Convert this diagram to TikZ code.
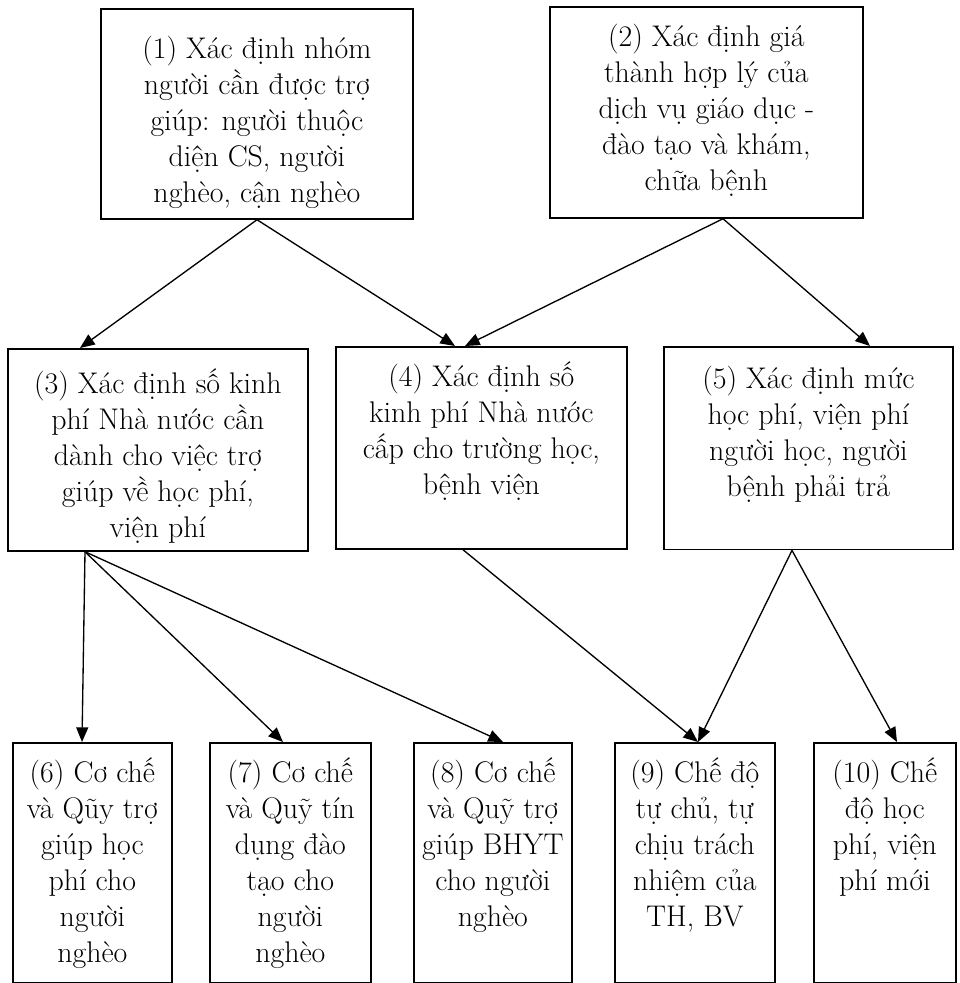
\documentclass[tikz,border=0pt]{standalone}
\usepackage{fontspec}
\usetikzlibrary{arrows.meta,calc}

\newcommand{\noidung}[4][10.5pt]{\parbox[c][#3][t]{#2}{\centering\vspace*{#1}\strut #4}}

\tikzset{every picture/.style={line width=0.9pt}}
\tikzset{
  hop/.style={draw, line width=1.3pt, inner sep=0pt, anchor=north west,
    font=\fontsize{22.4}{27}\selectfont},
  mui/.style={-{Triangle[length=11pt,width=9pt]}, line width=1pt}
}

\begin{document}
\begin{tikzpicture}[x=0.75pt,y=0.75pt,yscale=-1,xscale=1]
	\useasboundingbox (0,0) rectangle (960,983);
	
	%Shape: Rectangle [id:b1]
	\node [hop] (b1) at (100,8) {\noidung[18.5pt]{234pt}{157.5pt}{(1) Xác định nhóm\\ người cần được trợ\\ giúp: người thuộc\\ diện CS, người\\ nghèo, cận nghèo}};
	%Shape: Rectangle [id:b2]
	\node [hop] (b2) at (549,6) {\noidung{234.75pt}{158.25pt}{(2) Xác định giá\\ thành hợp lý của\\ dịch vụ giáo dục -\\ đào tạo và khám,\\ chữa bệnh}};
	
	%Shape: Rectangle [id:b3]
	\node [hop] (b3) at (7,348) {\noidung[14.5pt]{225pt}{151.5pt}{(3) Xác định số kinh\\ phí Nhà nước cần\\ dành cho việc trợ\\ giúp về học phí,\\ viện phí}};
	%Shape: Rectangle [id:b4]
	\node [hop] (b4) at (335,346) {\noidung{218.25pt}{151.5pt}{(4) Xác định số\\ kinh phí Nhà nước\\ cấp cho trường học,\\ bệnh viện}};
	%Shape: Rectangle [id:b5]
	\node [hop] (b5) at (663,346) {\noidung[12pt]{216.75pt}{152pt}{(5) Xác định mức\\ học phí, viện phí\\ người học, người\\ bệnh phải trả}};
	
	%Shape: Rectangle [id:b6]
	\node [hop] (b6) at (12,742) {\noidung{119.25pt}{180pt}{(6) Cơ chế\\ và Qũy trợ\\ giúp học\\ phí cho\\ người\\ nghèo}};
	%Shape: Rectangle [id:b7]
	\node [hop] (b7) at (209,742) {\noidung{120.75pt}{180pt}{(7) Cơ chế\\ và Quỹ tín\\ dụng đào\\ tạo cho\\ người\\ nghèo}};
	%Shape: Rectangle [id:b8]
	\node [hop] (b8) at (413,742) {\noidung{118.5pt}{180pt}{(8) Cơ chế\\ và Quỹ trợ\\ giúp BHYT\\ cho người\\ nghèo}};
	%Shape: Rectangle [id:b9]
	\node [hop] (b9) at (614,742) {\noidung{120pt}{180pt}{(9) Chế độ\\ tự chủ, tự\\ chịu trách\\ nhiệm của\\ TH, BV}};
	%Shape: Rectangle [id:b10]
	\node [hop] (b10) at (813,742) {\noidung{106.5pt}{180pt}{(10) Chế\\ độ học\\ phí, viện\\ phí mới}};
	
	%Straight Lines: from (1) and (2)
	\draw [mui] ($(b1.south west)+(157,0)$) -- ($(b3.north west)+(73,0)$);
	\draw [mui] ($(b1.south west)+(157,0)$) -- ($(b4.north west)+(120,0)$);
	\draw [mui] ($(b2.south west)+(174,0)$) -- ($(b4.north west)+(130,0)$);
	\draw [mui] ($(b2.south west)+(174,0)$) -- ($(b5.north west)+(207,0)$);
	%Straight Lines: from (3)
	\draw [mui] ($(b3.south west)+(78,0)$) -- ($(b6.north west)+(70,0)$);
	\draw [mui] ($(b3.south west)+(78,0)$) -- ($(b7.north west)+(74,0)$);
	\draw [mui] ($(b3.south west)+(78,0)$) -- ($(b8.north west)+(90,0)$);
	%Straight Lines: from (4) and (5)
	\draw [mui] ($(b4.south west)+(128,0)$) -- ($(b9.north west)+(84,0)$);
	\draw [mui] ($(b5.south west)+(129,0)$) -- ($(b9.north west)+(84,0)$);
	\draw [mui] ($(b5.south west)+(129,0)$) -- ($(b10.north west)+(84,0)$);
	
\end{tikzpicture}
\end{document}
